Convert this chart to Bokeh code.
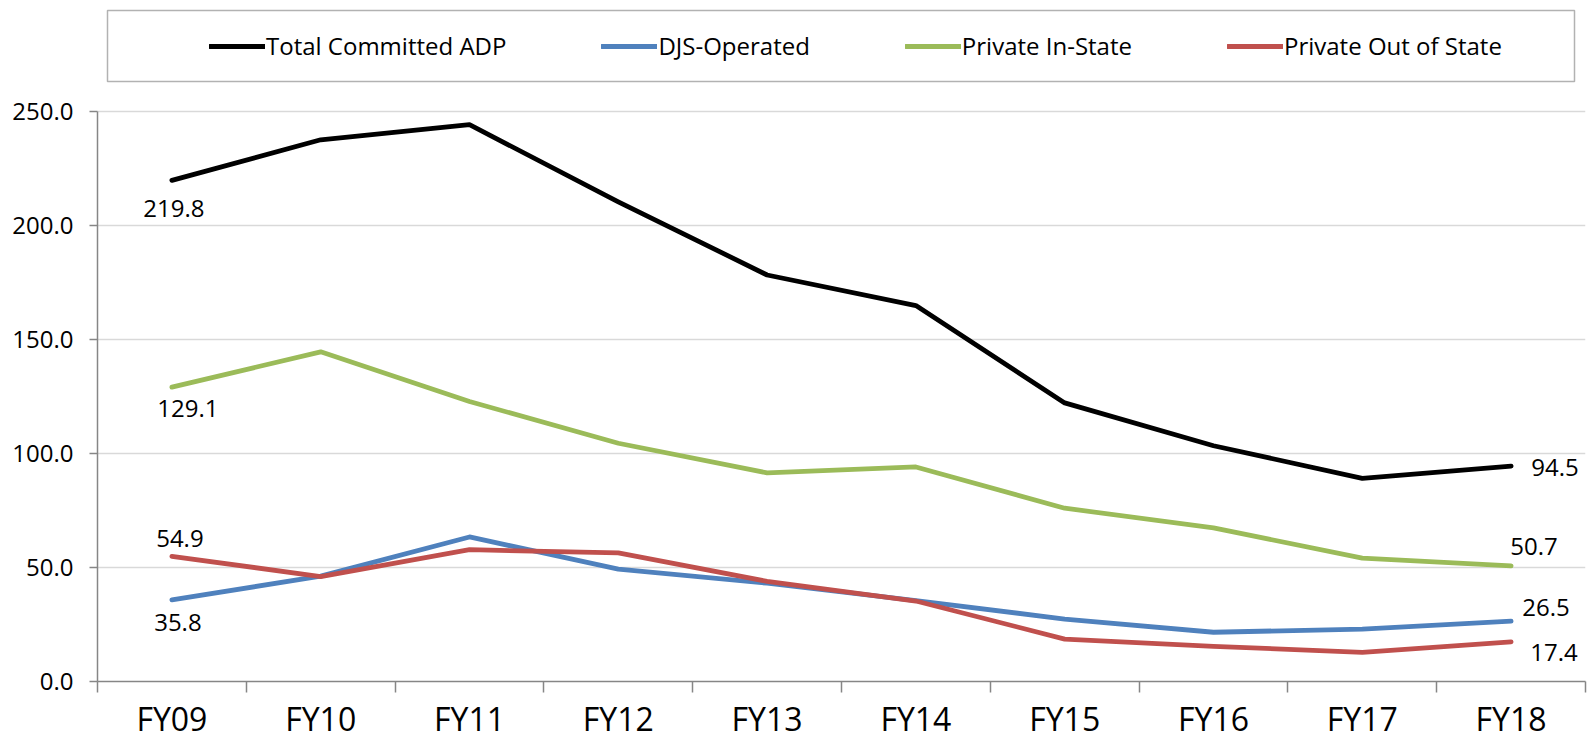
from bokeh.plotting import figure
from bokeh.models import (Range1d, FixedTicker, Legend, LegendItem, BoxAnnotation,
                          ColumnDataSource, NumeralTickFormatter)
from bokeh.core.properties import value
from bokeh.embed import file_html
from bokeh.resources import INLINE

# ---------------- data ----------------
categories = ["FY09", "FY10", "FY11", "FY12", "FY13", "FY14", "FY15", "FY16", "FY17", "FY18"]
total_committed = [219.8, 237.6, 244.2, 210.4, 178.3, 164.9, 122.2, 103.4, 89.1, 94.5]
djs_operated = [35.8, 46.2, 63.4, 49.3, 43.1, 35.5, 27.4, 21.6, 23.0, 26.5]
private_in_state = [129.1, 144.6, 122.8, 104.5, 91.5, 94.1, 76.0, 67.4, 54.1, 50.7]
private_out_state = [54.9, 46.0, 57.8, 56.4, 43.9, 35.3, 18.6, 15.4, 12.8, 17.4]
series_names = ["Total Committed ADP", "DJS-Operated", "Private In-State", "Private Out of State"]
y_ticks = [0, 50, 100, 150, 200, 250]

# ---------------- styling / layout ----------------
FONT = "Open Sans"
colors = ["#000000", "#4F81BD", "#9BBB59", "#C0504D"]
AXIS_C = "#868686"
GRID_C = "#D9D9D9"

W, H = 1593, 742
LEFT, RIGHT, TOP, BOTTOM = 97, 8, 0, 61
Y_MAX_TICK = y_ticks[-1]
TOP_TICK_PX = 111                     # distance of the top tick from canvas top
frame_h = H - TOP - BOTTOM
frame_w = W - LEFT - RIGHT
px_per_unit = (frame_h - TOP_TICK_PX) / Y_MAX_TICK
y_top = Y_MAX_TICK + TOP_TICK_PX / px_per_unit
n = len(categories)
xs = list(range(n))
px_per_cat = frame_w / n


def x_of(px):   # canvas px -> data x
    return -0.5 + (px - LEFT) / px_per_cat


def y_of(py):   # canvas py -> data y
    return (TOP + frame_h - py) / px_per_unit


p = figure(width=W, height=H, x_range=Range1d(-0.5, n - 0.5), y_range=Range1d(0, y_top),
           output_backend="svg", toolbar_location=None,
           min_border_left=LEFT, min_border_right=RIGHT, min_border_top=TOP,
           min_border_bottom=BOTTOM)
p.outline_line_color = None
p.background_fill_color = "white"
p.border_fill_color = "white"

# y axis
p.yaxis.ticker = FixedTicker(ticks=y_ticks, minor_ticks=[])
p.yaxis.bounds = (0, Y_MAX_TICK)
p.yaxis.formatter = NumeralTickFormatter(format="0.0")
p.yaxis.axis_line_color = AXIS_C
p.yaxis.axis_line_width = 1.5
p.yaxis.major_tick_line_color = AXIS_C
p.yaxis.major_tick_line_width = 1.5
p.yaxis.major_tick_out = 8
p.yaxis.major_tick_in = 0
p.yaxis.minor_tick_line_color = None
p.yaxis.major_label_text_font = FONT
p.yaxis.major_label_text_font_size = "24px"
p.yaxis.major_label_text_color = "black"
p.yaxis.major_label_standoff = 16

p.ygrid.ticker = FixedTicker(ticks=y_ticks[1:], minor_ticks=[])
p.ygrid.grid_line_color = GRID_C
p.ygrid.grid_line_width = 1.5
p.xgrid.visible = False

# x axis
p.xaxis.ticker = FixedTicker(ticks=xs, minor_ticks=[i - 0.5 for i in range(n + 1)])
p.xaxis.major_label_overrides = {i: c for i, c in enumerate(categories)}
p.xaxis.axis_line_color = AXIS_C
p.xaxis.axis_line_width = 1.5
p.xaxis.major_tick_line_color = None
p.xaxis.major_tick_out = 0
p.xaxis.major_tick_in = 0
p.xaxis.minor_tick_line_color = AXIS_C
p.xaxis.minor_tick_line_width = 1.5
p.xaxis.minor_tick_out = 11
p.xaxis.minor_tick_in = 0
p.xaxis.major_label_text_font = FONT
p.xaxis.major_label_text_font_size = "32px"
p.xaxis.major_label_text_line_height = 0.8
p.xaxis.major_label_text_color = "black"
p.xaxis.major_label_standoff = 4

# lines
series = [total_committed, djs_operated, private_in_state, private_out_state]
renderers = []
for vals, col in zip(series, colors):
    r = p.line(xs, vals, line_color=col, line_width=4.8, line_cap="round", line_join="round")
    renderers.append(r)

# data labels (first and last points)
lab_series = [0, 2, 3, 1, 0, 2, 1, 3]
lab_index = [0, 0, 0, 0, n - 1, n - 1, n - 1, n - 1]
lab_dx = [2, 16, 8, 6, 44, 23, 35, 43]
lab_dy = [28, 21, -18, 23, 1, -19, -14, 11]
lab_src = ColumnDataSource(dict(
    x=[xs[i] for i in lab_index],
    y=[series[s][i] for s, i in zip(lab_series, lab_index)],
    text=[f"{series[s][i]:.1f}" for s, i in zip(lab_series, lab_index)],
    dx=lab_dx, dy=lab_dy,
))
p.text(x="x", y="y", text="text", x_offset="dx", y_offset="dy", source=lab_src,
       text_font=value(FONT), text_font_size="24px", text_color="black",
       text_align="center", text_baseline="middle")

# legend box
box = BoxAnnotation(left=x_of(107), right=x_of(1574), top=y_of(10), bottom=y_of(81),
                    fill_color=None, line_color="black", line_width=1.5)
p.add_layout(box)

legend = Legend(items=[LegendItem(label=nm, renderers=[r]) for nm, r in zip(series_names, renderers)],
                orientation="horizontal", location=(209 - LEFT, frame_h - 62),
                border_line_color=None, background_fill_alpha=0, padding=0, margin=0,
                spacing=95, glyph_width=56, glyph_height=24, label_standoff=1,
                label_height=24,
                label_text_font=FONT, label_text_font_size="24px", label_text_color="black")
p.add_layout(legend, "center")

open("out.html", "w").write(file_html(p, INLINE))
